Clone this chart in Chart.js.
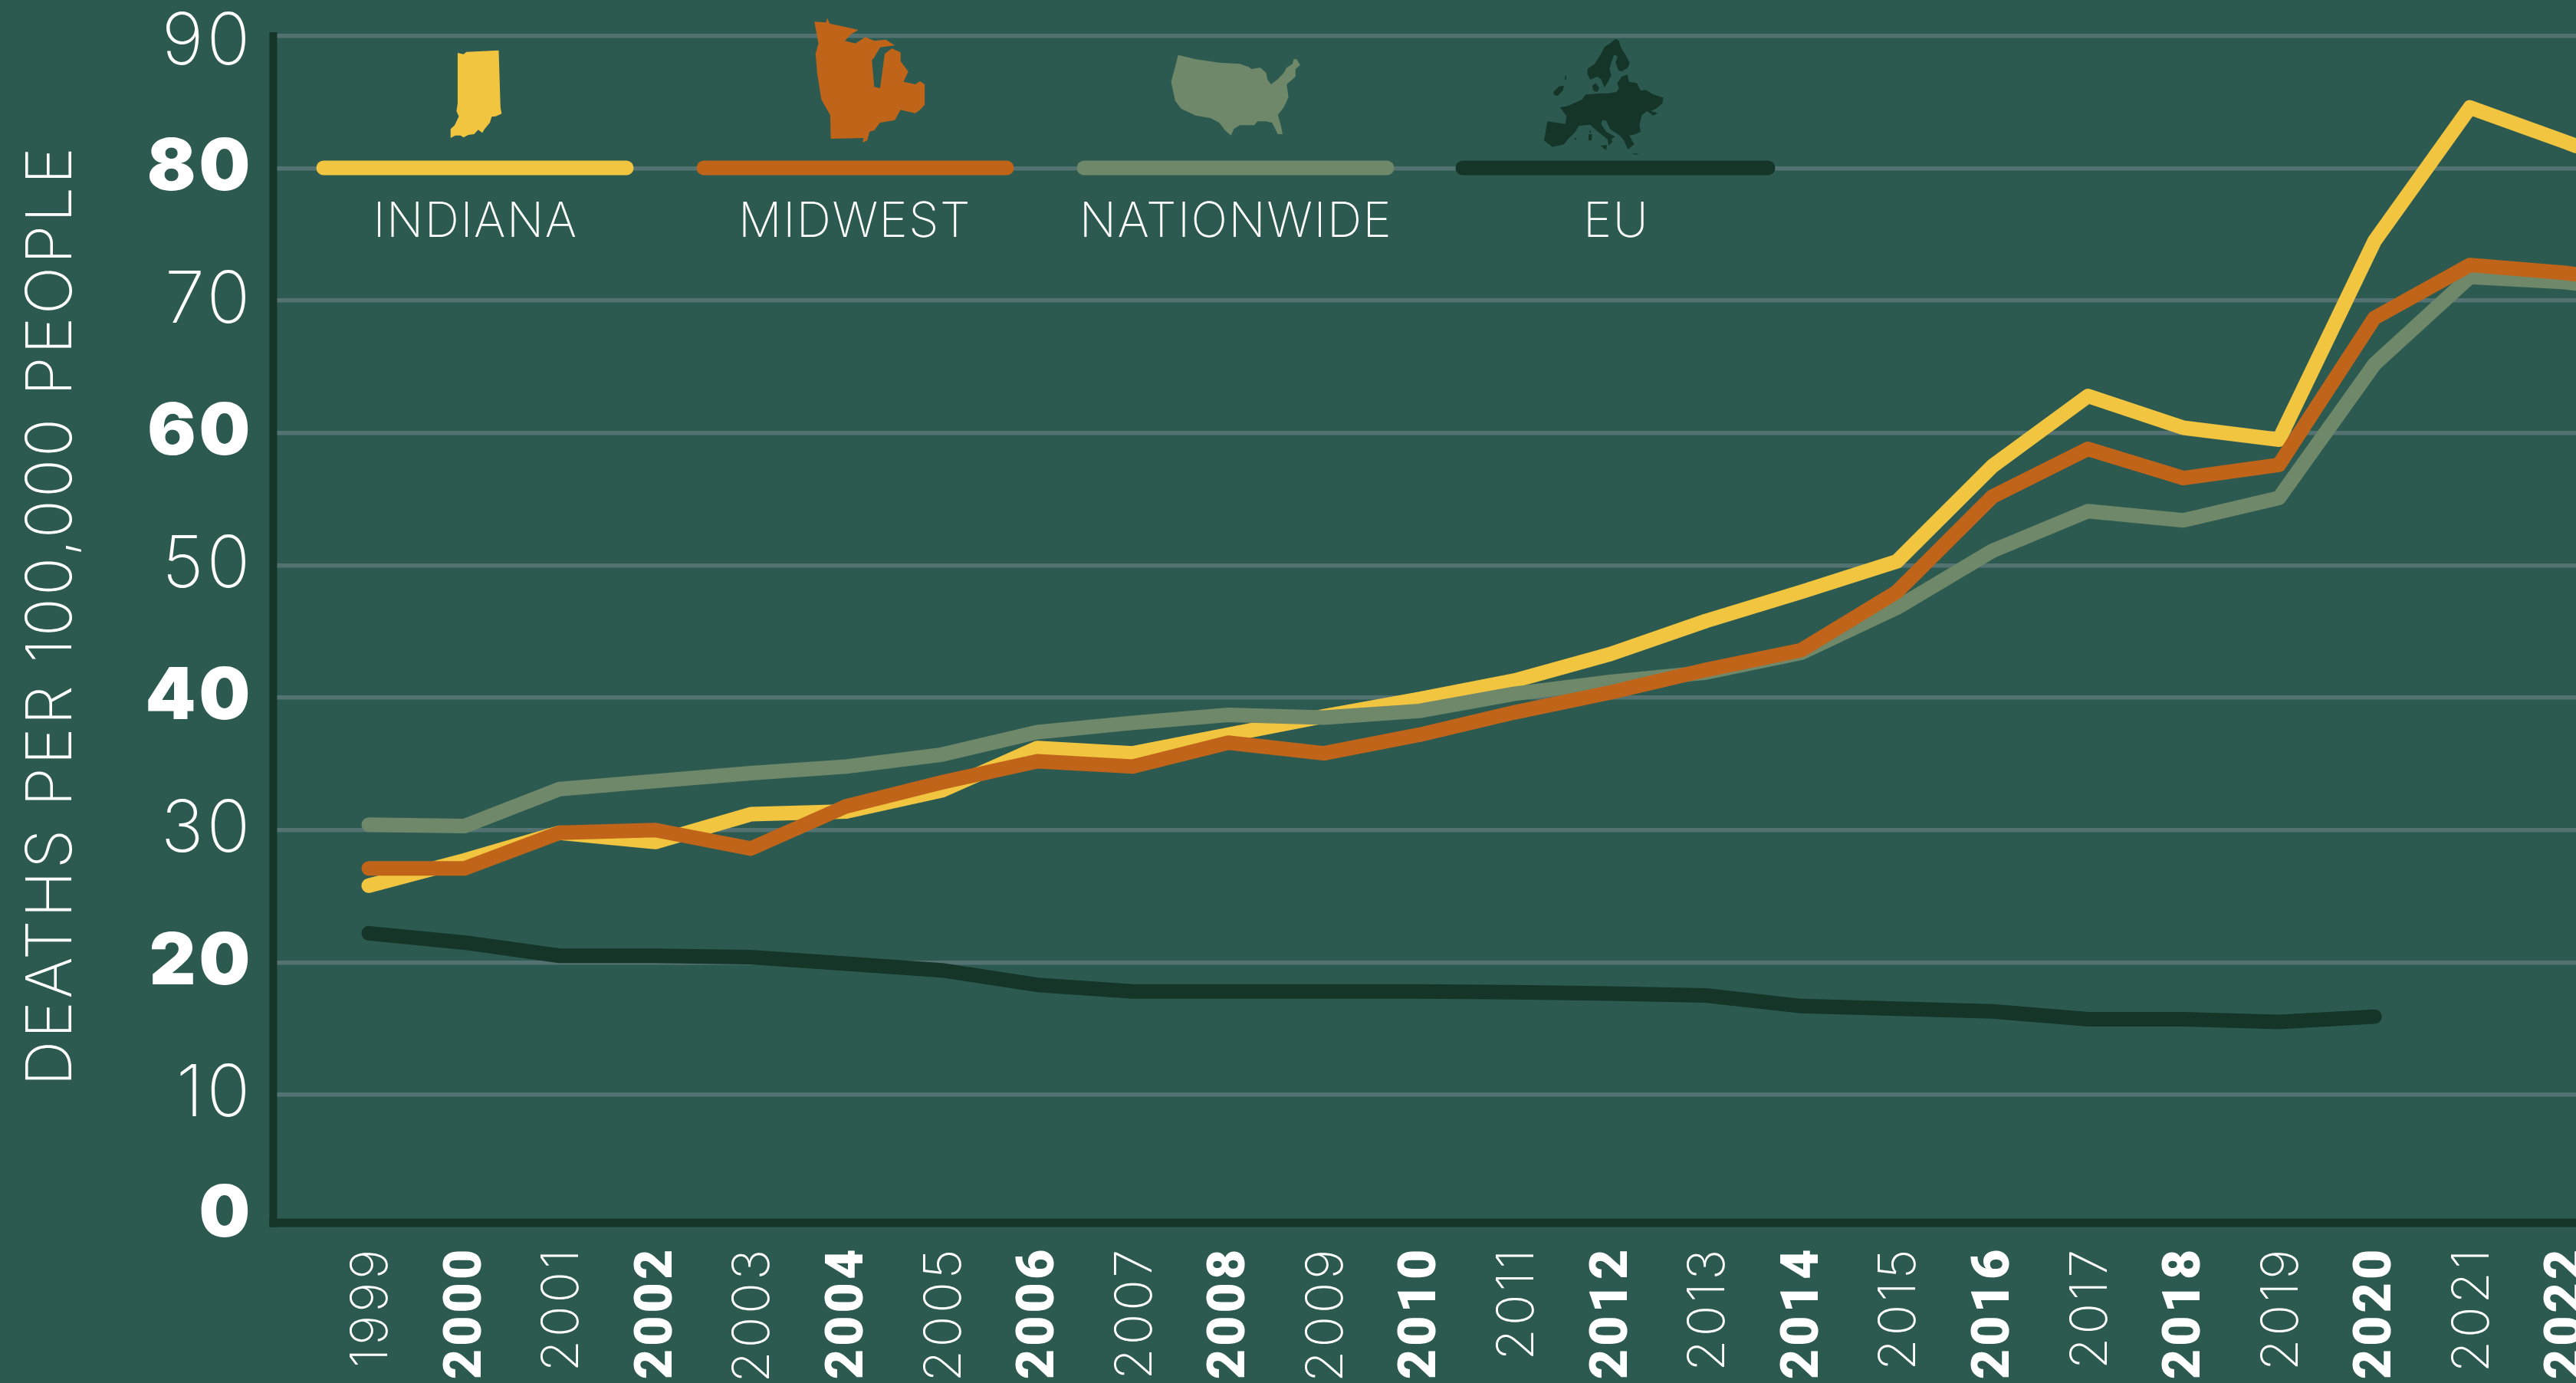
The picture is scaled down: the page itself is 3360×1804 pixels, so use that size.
<!DOCTYPE html>
<html>
<head>
<meta charset="utf-8">
<title>Deaths per 100,000 people</title>
<script src="https://cdn.jsdelivr.net/npm/chart.js@4"></script>
<style>
  html, body { margin: 0; padding: 0; background: #2d5a50; overflow: hidden; }
  canvas { display: block; }
</style>
</head>
<body>
<canvas id="deathsChart" width="3360" height="1804"></canvas>
<script>
// ===== DATA =====
const years = [1999, 2000, 2001, 2002, 2003, 2004, 2005, 2006, 2007, 2008, 2009, 2010,
               2011, 2012, 2013, 2014, 2015, 2016, 2017, 2018, 2019, 2020, 2021, 2022];
// the picture is cropped just after 2022, the last value of each line is read at that edge
const cropYear = 2022.11;

const indiana = [25.8, 27.7, 29.8, 29.1, 31.2, 31.4, 33.0, 36.2, 35.8, 37.2, 38.6, 39.9,
                 41.3, 43.3, 45.8, 48.0, 50.3, 57.5, 62.8, 60.4, 59.5, 74.5, 84.6, 82.0, 81.7];
const midwest = [27.1, 27.1, 29.8, 30.0, 28.6, 31.8, 33.6, 35.2, 34.8, 36.6, 35.8, 37.2,
                 38.9, 40.4, 42.1, 43.6, 48.0, 55.2, 58.8, 56.6, 57.6, 68.7, 72.7, 72.1, 72.0];
const nationwide = [30.4, 30.3, 33.1, 33.7, 34.3, 34.8, 35.7, 37.4, 38.1, 38.7, 38.5, 39.0,
                    40.3, 41.2, 41.9, 43.4, 46.8, 51.1, 54.1, 53.4, 55.1, 65.2, 71.8, 71.4, 71.3];
const eu = [22.2, 21.5, 20.5, 20.5, 20.4, 19.9, 19.4, 18.3, 17.8, 17.8, 17.8, 17.8,
            17.75, 17.65, 17.5, 16.7, 16.5, 16.3, 15.7, 15.7, 15.5, 15.9];

const seriesNames = ['INDIANA', 'MIDWEST', 'NATIONWIDE', 'EU'];
const axisTitle = 'DEATHS PER 100,000 PEOPLE';

// ===== STYLE =====
const COLORS = {
    indiana: '#f2c541',
    midwest: '#c0641a',
    nationwide: '#6f886a',
    eu: '#143528',
    grid: '#537271',
    text: '#ffffff'
};
const seriesColors = [COLORS.indiana, COLORS.midwest, COLORS.nationwide, COLORS.eu];
const FONT = 'Inter, "Liberation Sans", sans-serif';
const FONT_YEAR_BOLD = 'Roboto, Inter, sans-serif';

// ===== LEGEND ICONS (traced outlines) =====
const iconIndiana = { dx: 0, dy: 0, sx: 1.3067, sy: 3, parts: [[[780,207],[790,212],[795,203],[850,197],[853,420],[855,445],[845,455],[838,457],[835,480],[826,505],[822,520],[815,508],[808,525],[798,528],[790,538],[785,530],[776,530],[768,540],[768,505],[775,490],[782,455],[778,435],[780,405]]] };
const iconMidwest = { dx: 0, dy: 0, sx: 1.3067, sy: 3, parts: [[[1388,85],[1408,88],[1410,70],[1414,92],[1440,105],[1463,117],[1450,135],[1440,160],[1458,170],[1475,145],[1490,160],[1510,155],[1525,178],[1500,185],[1490,225],[1486,235],[1490,340],[1500,345],[1505,260],[1508,210],[1520,190],[1535,205],[1535,240],[1548,280],[1540,320],[1560,330],[1568,318],[1576,330],[1576,410],[1568,430],[1560,443],[1535,430],[1525,470],[1500,480],[1490,510],[1482,515],[1478,550],[1470,558],[1472,540],[1416,543],[1415,450],[1400,390],[1393,290],[1390,210],[1395,170]]] };
const iconUsa = { dx: 1200, dy: 0, sx: 1.3067, sy: 3, parts: [[[440,215],[470,232],[510,245],[545,250],[560,262],[565,270],[580,265],[590,285],[592,310],[598,330],[610,310],[620,285],[625,265],[635,250],[637,232],[642,232],[648,255],[640,270],[640,300],[625,330],[628,380],[620,420],[610,450],[615,490],[618,525],[610,525],[600,480],[590,475],[575,475],[570,490],[545,490],[535,505],[530,530],[520,510],[510,480],[495,462],[470,452],[445,425],[435,395],[428,320],[435,260]]] };
const iconEurope = { dx: 2000, dy: 40, sx: 3, sy: 3, parts: [
    [[212,150],[240,130],[262,95],[280,62],[300,50],[322,32],[335,40],[342,65],[358,90],[377,125],[370,145],[345,160],[333,155],[322,125],[330,100],[315,95],[305,125],[298,150],[305,175],[290,205],[278,222],[265,190],[250,180],[222,192],[212,170]],
    [[230,215],[245,205],[258,225],[250,240],[235,235]],
    [[345,180],[368,172],[375,200],[405,205],[420,235],[440,232],[470,250],[508,262],[505,285],[480,305],[460,315],[487,322],[470,332],[445,315],[425,330],[415,370],[420,395],[400,405],[375,410],[395,445],[370,465],[355,430],[338,410],[300,385],[285,352],[270,350],[265,365],[285,395],[320,415],[305,425],[310,435],[295,450],[290,425],[265,405],[235,380],[222,368],[205,370],[178,372],[165,395],[135,425],[120,445],[75,455],[42,430],[55,355],[125,365],[130,335],[105,300],[135,295],[190,270],[205,250],[270,245],[295,245],[325,240],[335,225],[328,205],[340,190]],
    [[262,450],[288,447],[285,468]],
    [[217,405],[230,405],[228,430],[215,430]],
    [[222,385],[226,400],[220,400]],
    [[158,420],[170,422],[165,428]],
    [[78,240],[100,218],[120,215],[115,235],[95,255],[82,252]],
    [[125,175],[130,178],[126,196],[123,190]],
    [[385,480],[415,482],[400,486]]
] };
const legendIcons = [iconIndiana, iconMidwest, iconUsa, iconEurope];

// ===== LEGEND LAYOUT =====
const legendBars = [[413, 826], [909, 1322], [1405, 1818], [1899, 2315]];
const legendLabelX = [620, 1115, 1612, 2108];

// ===== PLUGINS =====
const axisLines = {
    id: 'axisLines',
    beforeDraw(chart) {
        // the light digits of the reference run wider than Inter, ticks inherit this
        chart.ctx.letterSpacing = '4px';
    },
    beforeDatasetsDraw(chart) {
        const { ctx, chartArea } = chart;
        ctx.save();
        ctx.fillStyle = COLORS.eu;
        ctx.fillRect(chartArea.left - 5, chartArea.top - 5, 10, chartArea.bottom - chartArea.top + 5);
        ctx.fillRect(chartArea.left - 5, chartArea.bottom - 11, chartArea.right - chartArea.left + 5, 11);
        ctx.restore();
    }
};

function drawIcon(ctx, icon, color) {
    ctx.fillStyle = color;
    ctx.beginPath();
    icon.parts.forEach(part => {
        part.forEach((p, i) => {
            const x = icon.dx + p[0] / icon.sx;
            const y = icon.dy + p[1] / icon.sy;
            if (i === 0) ctx.moveTo(x, y); else ctx.lineTo(x, y);
        });
        ctx.closePath();
    });
    ctx.fill();
}

const customLegend = {
    id: 'customLegend',
    afterDatasetsDraw(chart) {
        const ctx = chart.ctx;
        ctx.save();
        seriesNames.forEach((name, i) => {
            drawIcon(ctx, legendIcons[i], seriesColors[i]);

            ctx.strokeStyle = seriesColors[i];
            ctx.lineWidth = 19;
            ctx.lineCap = 'round';
            ctx.beginPath();
            ctx.moveTo(legendBars[i][0] + 9, 219);
            ctx.lineTo(legendBars[i][1] - 9, 219);
            ctx.stroke();

            ctx.fillStyle = COLORS.text;
            ctx.font = '200 63px ' + FONT;
            ctx.letterSpacing = '1.5px';
            ctx.textAlign = 'center';
            ctx.textBaseline = 'alphabetic';
            ctx.fillText(name, legendLabelX[i], 309);
        });

        // y axis title
        ctx.translate(93, 803);
        ctx.rotate(-Math.PI / 2);
        ctx.font = '200 83px ' + FONT;
        ctx.letterSpacing = '3px';
        ctx.textAlign = 'center';
        ctx.textBaseline = 'alphabetic';
        ctx.fillText(axisTitle, 0, 0);
        ctx.restore();
    }
};

// ===== CHART =====
function lineDataset(label, values, color, order) {
    const xs = years.concat(cropYear);
    return {
        label: label,
        data: values.map((v, i) => ({ x: xs[i], y: v })),
        borderColor: color,
        borderWidth: 19,
        borderCapStyle: 'round',
        borderJoinStyle: 'round',
        pointRadius: 0,
        tension: 0,
        order: order
    };
}

function noAutoPadding(scale) {
    scale.paddingLeft = 0;
    scale.paddingRight = 0;
    scale.paddingTop = 0;
    scale.paddingBottom = 0;
}

new Chart(document.getElementById('deathsChart').getContext('2d'), {
    type: 'line',
    data: {
        datasets: [
            lineDataset('Indiana', indiana, COLORS.indiana, 3),
            lineDataset('Midwest', midwest, COLORS.midwest, 1),
            lineDataset('Nationwide', nationwide, COLORS.nationwide, 2),
            lineDataset('EU', eu, COLORS.eu, 0)
        ]
    },
    plugins: [axisLines, customLegend],
    options: {
        responsive: false,
        animation: false,
        devicePixelRatio: 1,
        layout: { padding: { top: 47, left: 0, right: 0, bottom: 0 }, autoPadding: false },
        plugins: { legend: { display: false }, tooltip: { enabled: false } },
        scales: {
            x: {
                type: 'linear',
                min: 1998,
                max: cropYear,
                afterFit(scale) {
                    scale.height = 203.4;
                    noAutoPadding(scale);
                },
                grid: { display: false, drawTicks: false },
                border: { display: false },
                ticks: {
                    stepSize: 1,
                    includeBounds: false,
                    autoSkip: false,
                    minRotation: 90,
                    maxRotation: 90,
                    padding: 25,
                    labelOffset: 4,
                    color: COLORS.text,
                    callback(value) {
                        return years.includes(value) ? String(value) : null;
                    },
                    font(context) {
                        const bold = context.tick && context.tick.value % 2 === 0;
                        return bold
                            ? { family: FONT_YEAR_BOLD, size: 68, weight: '900' }
                            : { family: FONT, size: 67, weight: '200' };
                    }
                }
            },
            y: {
                min: 0,
                max: 90,
                afterFit(scale) {
                    scale.width = 356.4;
                    noAutoPadding(scale);
                },
                grid: {
                    drawTicks: false,
                    lineWidth: 5.5,
                    color(context) {
                        return context.tick.value === 0 ? 'transparent' : COLORS.grid;
                    }
                },
                border: { display: false },
                ticks: {
                    stepSize: 10,
                    padding: 26,
                    color: COLORS.text,
                    callback(value) {
                        // blank lines nudge the end labels off the axis corners
                        if (value === 0) return ['0', ''];
                        if (value === 90) return ['', '90'];
                        return String(value);
                    },
                    font(context) {
                        const value = context.tick ? context.tick.value : null;
                        let lineHeight = 1.2;
                        if (value === 0) lineHeight = '32px';
                        if (value === 90) lineHeight = '18px';
                        return { family: FONT, size: 94, weight: value % 20 === 0 ? '900' : '200', lineHeight: lineHeight };
                    }
                }
            }
        }
    }
});
</script>
</body>
</html>
